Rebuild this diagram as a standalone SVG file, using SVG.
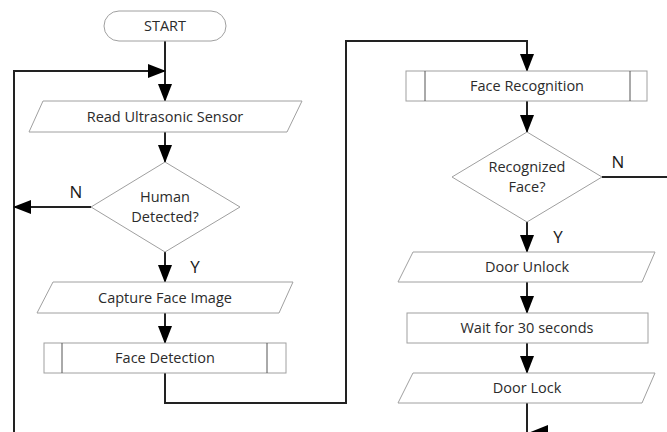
<svg xmlns="http://www.w3.org/2000/svg" width="667" height="432" viewBox="0 0 667 432">
<style>
  .shape { fill: #ffffff; stroke: #a0a0a0; stroke-width: 1; }
  .inner { fill: none; stroke: #555555; stroke-width: 1; }
  .lbl { font-family: "Open Sans", "Liberation Sans", sans-serif; font-size: 14.5px; fill: #2b2b2b; text-anchor: middle; }
  .yn { font-family: "Open Sans", "Liberation Sans", sans-serif; font-size: 17px; fill: #1a1a1a; text-anchor: middle; }
  .conn { fill: none; stroke: #222222; stroke-width: 2; }
  .conn-arrow { fill: none; stroke: #222222; stroke-width: 2; marker-end: url(#ah); }
</style>
<defs>
  <marker id="ah" markerUnits="userSpaceOnUse" markerWidth="18" markerHeight="14" refX="17" refY="7" orient="auto">
    <path d="M0,0 L18,7 L0,14 Z" fill="#000000"/>
  </marker>
</defs>
<rect width="667" height="432" fill="#ffffff"/>

<g id="connectors">
  <path class="conn-arrow" d="M165,41 V101"/>
  <path class="conn-arrow" d="M14,432 V71 H165"/>
  <path class="conn-arrow" d="M165,132 V162"/>
  <path class="conn-arrow" d="M91,207 H14"/>
  <path class="conn-arrow" d="M165,252 V282"/>
  <path class="conn-arrow" d="M165,313 V343"/>
  <path class="conn-arrow" d="M165,373 V403 H346 V41 H527 V71"/>
  <path class="conn-arrow" d="M527,101 V132"/>
  <path class="conn" d="M602,177 H667"/>
  <path class="conn-arrow" d="M527,222 V252"/>
  <path class="conn-arrow" d="M527,282 V313"/>
  <path class="conn-arrow" d="M527,343 V373"/>
  <path class="conn" d="M527,403 V432"/>
  <path d="M528,433 L548,425 L548,441 Z" fill="#000000"/>
</g>

<g id="start">
  <rect class="shape" x="104" y="11" width="122" height="30" rx="15" ry="15"/>
  <text class="lbl" x="165" y="31">START</text>
</g>

<g id="read-sensor">
  <polygon class="shape" points="43,101 302,101 287,132 29,132"/>
  <text class="lbl" x="165" y="122">Read Ultrasonic Sensor</text>
</g>

<g id="human-detected">
  <polygon class="shape" points="165,162 240,207 165,252 91,207"/>
  <text class="lbl" x="165" y="202">Human</text>
  <text class="lbl" x="165" y="222">Detected?</text>
</g>

<g id="capture-face">
  <polygon class="shape" points="53,282 293,282 279,313 37,313"/>
  <text class="lbl" x="165" y="303">Capture Face Image</text>
</g>

<g id="face-detection">
  <rect class="shape" x="44" y="343" width="242" height="30"/>
  <line class="inner" x1="62" y1="343" x2="62" y2="373"/>
  <line class="inner" x1="267" y1="343" x2="267" y2="373"/>
  <text class="lbl" x="165" y="363">Face Detection</text>
</g>

<g id="face-recognition">
  <rect class="shape" x="406" y="71" width="241" height="30"/>
  <line class="inner" x1="425" y1="71" x2="425" y2="101"/>
  <line class="inner" x1="630" y1="71" x2="630" y2="101"/>
  <text class="lbl" x="527" y="91">Face Recognition</text>
</g>

<g id="recognized-face">
  <polygon class="shape" points="527,132 602,177 527,222 452,177"/>
  <text class="lbl" x="527" y="172">Recognized</text>
  <text class="lbl" x="527" y="192">Face?</text>
</g>

<g id="door-unlock">
  <polygon class="shape" points="413,252 655,252 642,282 398,282"/>
  <text class="lbl" x="527" y="272">Door Unlock</text>
</g>

<g id="wait">
  <rect class="shape" x="407" y="313" width="241" height="30"/>
  <text class="lbl" x="527" y="333">Wait for 30 seconds</text>
</g>

<g id="door-lock">
  <polygon class="shape" points="413,373 655,373 642,403 398,403"/>
  <text class="lbl" x="527" y="393">Door Lock</text>
</g>

<g id="labels">
  <text class="yn" x="76" y="198">N</text>
  <text class="yn" x="195" y="273">Y</text>
  <text class="yn" x="618" y="168">N</text>
  <text class="yn" x="558" y="243">Y</text>
</g>
</svg>
